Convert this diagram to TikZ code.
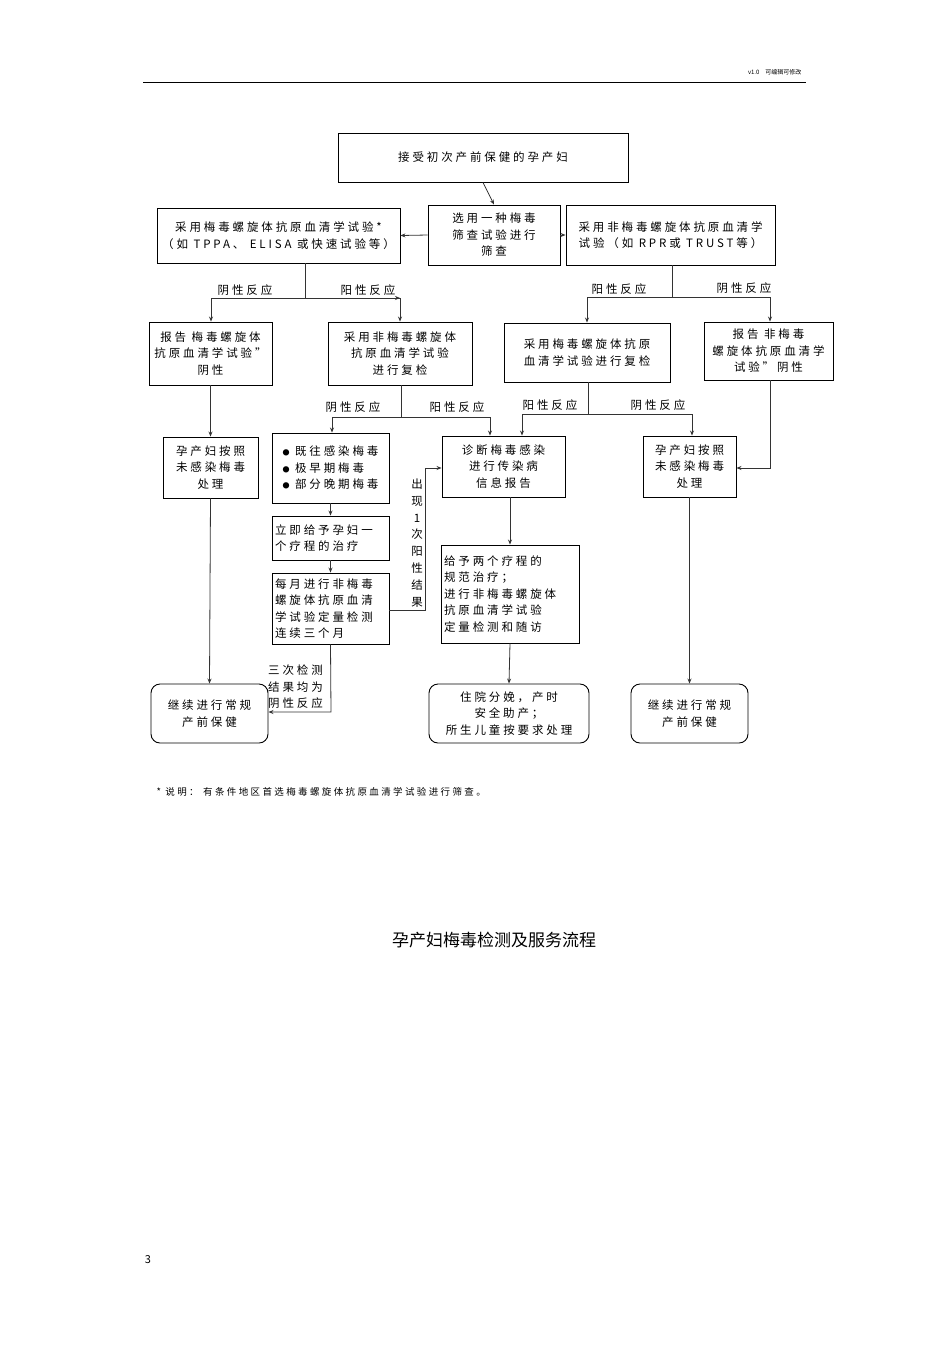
\documentclass[tikz,border=0pt]{standalone}
\usepackage{fontspec}
\setmainfont{Noto Sans CJK SC}[LetterSpace=25]
\newfontfamily\plainf{Noto Sans CJK SC}
\usetikzlibrary{arrows.meta}
\begin{document}
\begin{tikzpicture}[x=1pt,y=-1pt,
  bx/.style={draw,line width=0.9pt,inner sep=2pt,font=\fontsize{11.5}{16.5}\selectfont,align=center},
  rbx/.style={bx,rounded corners=9pt},
  ln/.style={line width=0.8pt,draw=black!80},
  ar/.style={ln,-{Stealth[length=5pt,width=4pt]}},
  lab/.style={font=\fontsize{11.5}{14}\selectfont,inner sep=1pt}]
\useasboundingbox[fill=white] (0,0) rectangle (950,1345);
\node[font=\plainf\fontsize{6}{7}\selectfont,anchor=east] (hdr) at (805,72) {v1.0\quad 可编辑可修改};
\draw[line width=0.6pt] (143,82) coordinate (h1) -- (806,82) coordinate (h2);
% boxes
\node[bx,minimum width=290,minimum height=49] (top) at (483,157.5) {接受初次产前保健的孕产妇};
\node[bx,minimum width=243,minimum height=55] (l1) at (278.5,235.5) {采用梅毒螺旋体抗原血清学试验*\\（如 TPPA、 ELISA 或快速试验等）};
\node[bx,minimum width=132,minimum height=60] (m1) at (494,235) {选用一种梅毒\\筛查试验进行\\筛查};
\node[bx,minimum width=209,minimum height=60] (r1) at (670.5,235) {采用非梅毒螺旋体抗原血清学\\试验（如 RPR或 TRUST等）};
\node[bx,minimum width=123,minimum height=63] (l2a) at (210.5,353.5) {报告 梅毒螺旋体\\抗原血清学试验”\\阴性};
\node[bx,minimum width=144,minimum height=63] (l2b) at (400,353.5) {采用非梅毒螺旋体\\抗原血清学试验\\进行复检};
\node[bx,minimum width=166,minimum height=59] (r2a) at (587,352.5) {采用梅毒螺旋体抗原\\血清学试验进行复检};
\node[bx,minimum width=129,minimum height=58] (r2b) at (768.5,351) {报告 非梅毒\\螺旋体抗原血清学\\试验”阴性};
\node[bx,minimum width=95,minimum height=61] (l3) at (210.5,467.5) {孕产妇按照\\未感染梅毒\\处理};
\node[bx,minimum width=117,minimum height=70,align=left] (bul) at (330.5,468) {{\plainf\fontsize{7}{7}\selectfont●} 既往感染梅毒\\{\plainf\fontsize{7}{7}\selectfont●} 极早期梅毒\\{\plainf\fontsize{7}{7}\selectfont●} 部分晚期梅毒};
\node[bx,minimum width=117,minimum height=44,align=left,text width=111] (imm) at (330.5,538) {立即给予孕妇一\\个疗程的治疗};
\node[bx,minimum width=117,minimum height=71,align=left,text width=111] (mon) at (330.5,608.5) {每月进行非梅毒\\螺旋体抗原血清\\学试验定量检测\\连续三个月};
\node[bx,minimum width=123,minimum height=61] (dia) at (503.5,466.5) {诊断梅毒感染\\进行传染病\\信息报告};
\node[bx,minimum width=138,minimum height=98,align=left,text width=132] (trt) at (510,594) {给予两个疗程的\\规范治疗；\\进行非梅毒螺旋体\\抗原血清学试验\\定量检测和随访};
\node[bx,minimum width=93,minimum height=61] (r3) at (689.5,466.5) {孕产妇按照\\未感染梅毒\\处理};
\node[rbx,minimum width=117,minimum height=59] (cl) at (209.5,713.5) {继续进行常规\\产前保健};
\node[rbx,minimum width=160,minimum height=59] (hos) at (509,713.5) {住院分娩，产时\\安全助产；\\所生儿童按要求处理};
\node[rbx,minimum width=117,minimum height=59] (cr) at (689.5,713.5) {继续进行常规\\产前保健};
% connectors
\draw[ar] (top.south) -- (m1.north);
\draw[ar] (m1.west) -- (l1.east);
\draw[ar] (m1.east) -- (r1.east-|r1.west);
\coordinate (a1) at (305,298); \coordinate (a2) at (211,298); \coordinate (a3) at (400,298);
\draw[ln] (l1.south-|a1) -- (a1);
\draw[ar] (a2) -- (a3) ; 
\draw[ln] (a2) -- (a3);
\draw[ar] (a2) -- (a2|-l2a.north);
\draw[ar] (a3) -- (a3|-l2b.north);
\coordinate (b1) at (672,297); \coordinate (b2) at (587,297); \coordinate (b3) at (770,297);
\draw[ln] (r1.south-|b1) -- (b1); \draw[ln] (b2) -- (b3);
\draw[ar] (b2) -- (b2|-r2a.north);
\draw[ar] (b3) -- (b3|-r2b.north);
\node[lab] (t1) at (245,290) {阴性反应};
\node[lab] (t2) at (368,290) {阳性反应};
\node[lab] (t3) at (619,289) {阳性反应};
\node[lab] (t4) at (744,288) {阴性反应};
\coordinate (c1) at (401,417); \coordinate (c2) at (332,417); \coordinate (c3) at (490,417);
\draw[ln] (l2b.south-|c1) -- (c1); \draw[ln] (c2) -- (c3);
\draw[ar] (c2) -- (c2|-bul.north);
\draw[ar] (c3) -- (c3|-dia.north);
\coordinate (d1) at (588,414); \coordinate (d2) at (522,414); \coordinate (d3) at (692,414);
\draw[ln] (r2a.south-|d1) -- (d1); \draw[ln] (d2) -- (d3);
\draw[ar] (d2) -- (d2|-dia.north);
\draw[ar] (d3) -- (d3|-r3.north);
\node[lab] (t5) at (353,407) {阴性反应};
\node[lab] (t6) at (457,407) {阳性反应};
\node[lab] (t7) at (550,405) {阳性反应};
\node[lab] (t8) at (658,405) {阴性反应};
\draw[ar] (l2a.south) -- (l3.north);
\draw[ar] (l3.south) -- (cl.north);
\draw[ar] (bul.south) -- (imm.north);
\draw[ar] (imm.south) -- (mon.north);
\coordinate (e1) at (425,610); \coordinate (e2) at (425,468);
\draw[ar] (mon.east|-e1) -- (e1) -- (e2) -- (e2-|dia.west);
\node[lab,align=center,font=\fontsize{11.5}{16.8}\selectfont] (t9) at (417,543) {出\\现\\1\\次\\阳\\性\\结\\果};
\coordinate (f1) at (331,712);
\draw[ar] (mon.south) -- (f1) -- (f1-|cl.east);
\node[lab,align=left,font=\fontsize{11.5}{16.5}\selectfont,anchor=west] (t10) at (267,687) {三次检测\\结果均为\\阴性反应};
\draw[ar] (dia.south-|trt.north) -- (trt.north);
\draw[ar] (trt.south) -- (hos.north);
\coordinate (g1) at (770,468);
\draw[ar] (r2b.south-|g1) -- (g1) -- (r3.east|-g1);
\draw[ar] (r3.south) -- (cr.north);
\node[font=\fontsize{9.5}{11}\selectfont,anchor=west] (note) at (153,792) {* 说明： 有条件地区首选梅毒螺旋体抗原血清学试验进行筛查。};
\node[font=\plainf\fontsize{17}{20}\selectfont] (title) at (494,940) {孕产妇梅毒检测及服务流程};
\node[font=\plainf\fontsize{11}{13}\selectfont] (pg) at (148,1260) {3};
\end{tikzpicture}
\end{document}
